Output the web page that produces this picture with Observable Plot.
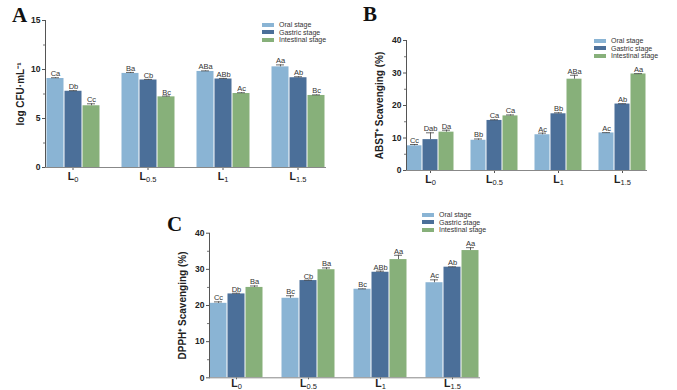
<!DOCTYPE html>
<html><head><meta charset="utf-8">
<script src="https://cdn.jsdelivr.net/npm/d3@7"></script>
<script src="https://cdn.jsdelivr.net/npm/@observablehq/plot@0.6"></script>
<style>
body{margin:0;background:#fff;font-family:Arial,"Liberation Sans",sans-serif}
#root{position:relative;width:677px;height:390px;overflow:hidden;background:#fff}
.panel{position:absolute}
.letter{position:absolute;font-family:"Liberation Serif","Times New Roman",serif;font-weight:bold;font-size:21px;line-height:21px;color:#111}
.legend{position:absolute;font-size:7px;line-height:7px;color:#333;font-family:Arial,"Liberation Sans",sans-serif}
.legend .row{display:flex;align-items:center;height:7.5px;white-space:nowrap}
.legend .sw{display:inline-block;width:12px;height:4px;margin-right:5px}
g[aria-label="y-axis tick label"] text{font-weight:bold}
g[aria-label="y-axis label"] text{font-weight:bold;font-size:10px}
g[aria-label="fx-axis tick label"] text{font-weight:bold}
</style></head><body><div id="root"></div>
<script>
const categories = ["L0", "L0.5", "L1", "L1.5"];
const categorySubs = ["0", "0.5", "1", "1.5"];
const stages = ["Oral stage", "Gastric stage", "Intestinal stage"];
const stageColors = ["#8ab4d4", "#4b6f99", "#87b07a"];

// Panel A: log CFU·mL-1
const aOral = [9.08, 9.6, 9.8, 10.27];
const aGastric = [7.78, 8.93, 9.03, 9.16];
const aIntestinal = [6.3, 7.21, 7.55, 7.35];
const aOralErr = [0.08, 0.1, 0.06, 0.2];
const aGastricErr = [0.06, 0.06, 0.06, 0.1];
const aIntestinalErr = [0.2, 0.08, 0.08, 0.06];
const aOralLabels = ["Ca", "Ba", "ABa", "Aa"];
const aGastricLabels = ["Db", "Cb", "ABb", "Ab"];
const aIntestinalLabels = ["Cc", "Bc", "Ac", "Bc"];

// Panel B: ABST+ scavenging (%)
const bOral = [7.6, 9.3, 11.0, 11.55];
const bGastric = [9.5, 15.4, 17.45, 20.45];
const bIntestinal = [11.8, 16.8, 28.1, 29.7];
const bOralErr = [0.4, 0.4, 0.5, 0.1];
const bGastricErr = [2.1, 0.2, 0.3, 0.1];
const bIntestinalErr = [0.6, 0.3, 1.2, 0.1];
const bOralLabels = ["Cc", "Bb", "Ac", "Ac"];
const bGastricLabels = ["Dab", "Ca", "Bb", "Ab"];
const bIntestinalLabels = ["Da", "Ca", "ABa", "Aa"];

// Panel C: DPPH+ scavenging (%)
const cOral = [20.6, 22.0, 24.5, 26.3];
const cGastric = [23.2, 26.9, 29.2, 30.6];
const cIntestinal = [25.0, 29.9, 32.7, 35.2];
const cOralErr = [0.4, 0.7, 0.1, 0.8];
const cGastricErr = [0.2, 0.1, 0.3, 0.1];
const cIntestinalErr = [0.4, 0.5, 1.2, 0.8];
const cOralLabels = ["Cc", "Bc", "Bc", "Ac"];
const cGastricLabels = ["Db", "Cb", "ABb", "Ab"];
const cIntestinalLabels = ["Ba", "Ba", "Aa", "Aa"];

function table(values, errs, labels) {
  const rows = [];
  stages.forEach((s, si) => {
    categories.forEach((c, ci) => {
      rows.push({category: c, stage: s, value: values[si][ci], err: errs[si][ci], label: labels[si][ci]});
    });
  });
  return rows;
}

const root = document.getElementById("root");

function panel(cfg) {
  const rows = table(cfg.values, cfg.errs, cfg.labels);
  const top = d => d.value + d.err;
  const chart = Plot.plot({
    width: cfg.width, height: cfg.height,
    marginLeft: cfg.ml, marginRight: cfg.mr, marginTop: cfg.mt, marginBottom: cfg.mb,
    style: {fontFamily: "Arial, 'Liberation Sans', sans-serif", fontSize: "8.5px", color: "#222", background: "transparent", overflow: "visible"},
    fx: {domain: categories, paddingInner: cfg.pad, paddingOuter: 0.12, label: null},
    x: {domain: stages, padding: 0, axis: null},
    y: {domain: [0, cfg.ymax], label: cfg.ylabel},
    color: {domain: stages, range: stageColors},
    marks: [
      Plot.barY(rows, {fx: "category", x: "stage", y: "value", fill: "stage", insetLeft: 0.5, insetRight: 0.5}),
      Plot.ruleX(rows, {fx: "category", x: "stage", y1: "value", y2: top, stroke: "#444", strokeWidth: 0.8}),
      Plot.tickY(rows, {fx: "category", x: "stage", y: top, stroke: "#444", strokeWidth: 0.8, insetLeft: cfg.cap, insetRight: cfg.cap}),
      Plot.text(rows, {fx: "category", x: "stage", y: top, text: "label", dy: -1.5, lineAnchor: "bottom", fontSize: 7.5, fill: "#333"}),
      Plot.axisFx({anchor: "bottom", tickSize: cfg.fxTick, tickPadding: cfg.fxPad, fontSize: 10.5, label: null, stroke: "#555"}),
      Plot.axisY({ticks: cfg.major, tickSize: 3, tickPadding: 2, stroke: "#555", label: cfg.ylabel, labelAnchor: "center", labelArrow: "none", labelOffset: cfg.lo, fontSize: 8.5}),
      Plot.axisY({ticks: cfg.minor, tickSize: 2, tickFormat: () => "", label: null, stroke: "#777"}),
      Plot.frame({facet: "super", anchor: "left", stroke: "#555"}),
      Plot.frame({facet: "super", anchor: "bottom", stroke: "#888"})
    ]
  });
  // subscripts on category tick labels
  chart.querySelectorAll('g[aria-label="fx-axis tick label"] text').forEach(t => {
    const key = t.textContent;
    const i = categories.indexOf(key);
    if (i < 0) return;
    t.textContent = "L";
    const ts = document.createElementNS("http://www.w3.org/2000/svg", "tspan");
    ts.setAttribute("dy", "0.25em");
    ts.setAttribute("font-size", "7.5");
    ts.setAttribute("font-weight", "normal");
    ts.textContent = categorySubs[i];
    t.appendChild(ts);
  });
  const wrap = document.createElement("div");
  wrap.className = "panel";
  wrap.style.left = cfg.left + "px";
  wrap.style.top = cfg.top + "px";
  wrap.appendChild(chart);
  root.appendChild(wrap);

  const leg = document.createElement("div");
  leg.className = "legend";
  leg.style.left = cfg.legX + "px";
  leg.style.top = cfg.legY + "px";
  stages.forEach((s, i) => {
    const r = document.createElement("div");
    r.className = "row";
    const sw = document.createElement("span");
    sw.className = "sw";
    sw.style.background = stageColors[i];
    r.appendChild(sw);
    r.appendChild(document.createTextNode(s));
    leg.appendChild(r);
  });
  root.appendChild(leg);

  const letter = document.createElement("div");
  letter.className = "letter";
  letter.textContent = cfg.letter;
  letter.style.left = cfg.letX + "px";
  letter.style.top = cfg.letY + "px";
  root.appendChild(letter);
}

panel({
  left: 0, top: 0, width: 340, height: 190, ml: 34, mr: 5, mt: 20, mb: 23, pad: 0.27, cap: 5, fxTick: 3, fxPad: 2,
  ymax: 15, major: [0, 5, 10, 15], minor: [2.5, 7.5, 12.5], ylabel: "log CFU·mL⁻¹", lo: 29,
  values: [aOral, aGastric, aIntestinal], errs: [aOralErr, aGastricErr, aIntestinalErr],
  labels: [aOralLabels, aGastricLabels, aIntestinalLabels],
  legX: 262, legY: 21, letter: "A", letX: 12, letY: 5
});
panel({
  left: 340, top: 0, width: 337, height: 190, ml: 57, mr: 22, mt: 40, mb: 20, pad: 0.25, cap: 4, fxTick: 3, fxPad: 2,
  ymax: 40, major: [0, 10, 20, 30, 40], minor: [5, 15, 25, 35], ylabel: "ABST⁺ Scavenging (%)", lo: 31,
  values: [bOral, bGastric, bIntestinal], errs: [bOralErr, bGastricErr, bIntestinalErr],
  labels: [bOralLabels, bGastricLabels, bIntestinalLabels],
  legX: 594, legY: 37, letter: "B", letX: 363, letY: 4
});
panel({
  left: 150, top: 190, width: 360, height: 200, ml: 49, mr: 21, mt: 42.7, mb: 12.7, pad: 0.25, cap: 5, fxTick: 2, fxPad: 0,
  ymax: 40, major: [0, 10, 20, 30, 40], minor: [5, 15, 25, 35], ylabel: "DPPH⁺ Scavenging (%)", lo: 31,
  values: [cOral, cGastric, cIntestinal], errs: [cOralErr, cGastricErr, cIntestinalErr],
  labels: [cOralLabels, cGastricLabels, cIntestinalLabels],
  legX: 422, legY: 211, letter: "C", letX: 167, letY: 214
});
</script></body></html>
